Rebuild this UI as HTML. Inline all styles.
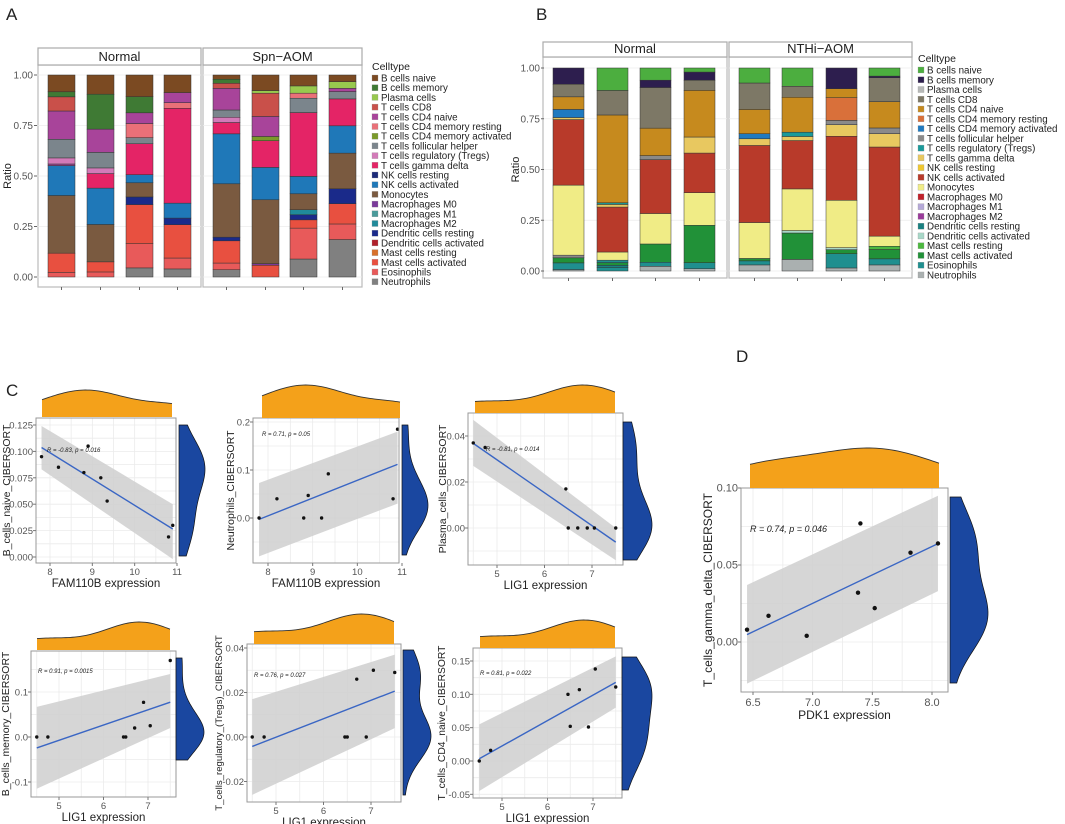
<!DOCTYPE html>
<html><head><meta charset="utf-8">
<style>
html,body{margin:0;padding:0;background:#fff;}
svg{display:block;font-family:"Liberation Sans",Arial,sans-serif;}
</style></head>
<body>
<svg id="fig" width="1065" height="824" viewBox="0 0 1065 824" xmlns="http://www.w3.org/2000/svg">
<text x="6" y="20" font-size="17" fill="#222">A</text>
<text x="536" y="20" font-size="17" fill="#222">B</text>
<text x="6" y="396" font-size="17" fill="#222">C</text>
<text x="736" y="362" font-size="17" fill="#222">D</text>
</svg>
<script>
const NS="http://www.w3.org/2000/svg";
const svg=document.getElementById('fig');
function mk(tag,attrs,parent){const e=document.createElementNS(NS,tag);for(const k in attrs)e.setAttribute(k,attrs[k]);(parent||svg).appendChild(e);return e;}

// ---------- Panel A data ----------
const cellTypesA=["B cells naive","B cells memory","Plasma cells","T cells CD8","T cells CD4 naive","T cells CD4 memory resting","T cells CD4 memory activated","T cells follicular helper","T cells regulatory (Tregs)","T cells gamma delta","NK cells resting","NK cells activated","Monocytes","Macrophages M0","Macrophages M1","Macrophages M2","Dendritic cells resting","Dendritic cells activated","Mast cells resting","Mast cells activated","Eosinophils","Neutrophils"];
const colorsA=["#7b4a22","#3f7a34","#98c94e","#c9504a","#a8449a","#ea7078","#7a9a2a","#7b858c","#d37ab8","#e42466","#1c2a78","#1f78b8","#7a5a40","#7a3a9a","#4a9a9a","#208a9a","#1a2a8a","#b0202a","#d8702a","#e85040","#e85a5a","#808080"];
const groupsA=["Normal","Spn\u2212AOM"];
// stacks bottom->top: [cellTypeIndex, fraction]
const barsA=[
 [[20,.023],[19,.095],[12,.285],[11,.148],[4,.008],[8,.03],[7,.092],[4,.14],[3,.07],[1,.025],[0,.083]],
 [[20,.025],[19,.05],[12,.185],[11,.18],[9,.072],[8,.028],[7,.077],[4,.115],[1,.173],[0,.095]],
 [[21,.045],[20,.12],[19,.193],[16,.038],[12,.07],[11,.04],[9,.153],[7,.03],[5,.07],[4,.053],[1,.08],[0,.107]],
 [[21,.04],[20,.054],[19,.165],[16,.033],[11,.074],[9,.47],[5,.028],[4,.05],[0,.087]],
 [[21,.036],[20,.033],[19,.11],[16,.018],[12,.264],[11,.247],[9,.056],[8,.026],[7,.036],[4,.107],[3,.025],[1,.02],[0,.021]],
 [[19,.058],[13,.008],[12,.316],[11,.16],[9,.132],[6,.021],[4,.099],[3,.115],[2,.013],[0,.077]],
 [[21,.089],[20,.153],[19,.041],[16,.025],[15,.025],[12,.079],[11,.086],[9,.316],[7,.071],[5,.025],[2,.036],[0,.054]],
 [[21,.185],[20,.077],[19,.1],[16,.074],[12,.176],[11,.135],[9,.133],[7,.036],[4,.016],[2,.033],[0,.033]]
];
const yTicksA=[0,0.25,0.5,0.75,1];

// ---------- Panel B data ----------
const colorsB=["#4cae3f","#2d1e4e","#b7b9b8","#7d7866","#c68a1e","#d9703a","#1f7ac0","#8a8a8a","#1a9a9a","#e8c860","#f0c830","#b83a2a","#f0ec86","#c0202a","#b5a9d8","#9a3a9a","#1a8080","#a8d8c8","#4cb83f","#219138","#1f8f8f","#aab0b0"];
const groupsB=["Normal","NTHi\u2212AOM"];
const barsB=[
 [[21,.007],[20,.033],[19,.025],[7,.013],[12,.345],[11,.323],[9,.01],[6,.04],[4,.062],[3,.062],[1,.08]],
 [[20,.016],[16,.012],[19,.013],[20,.012],[12,.04],[11,.22],[9,.013],[8,.008],[4,.43],[3,.12],[0,.11]],
 [[21,.023],[20,.02],[19,.09],[12,.15],[11,.265],[7,.02],[4,.135],[3,.2],[1,.036],[0,.06]],
 [[21,.011],[20,.03],[19,.184],[12,.161],[11,.195],[9,.079],[4,.23],[3,.05],[1,.04],[0,.02]],
 [[21,.03],[20,.02],[19,.012],[12,.177],[11,.38],[9,.033],[6,.025],[4,.12],[3,.13],[0,.074]],
 [[21,.057],[19,.13],[17,.012],[12,.205],[11,.238],[9,.02],[8,.021],[4,.172],[3,.054],[0,.09]],
 [[21,.015],[20,.07],[19,.02],[17,.01],[12,.233],[11,.315],[9,.057],[7,.021],[5,.112],[4,.044],[1,.102]],
 [[21,.03],[20,.03],[19,.046],[18,.016],[12,.05],[11,.44],[9,.066],[7,.028],[4,.13],[3,.118],[1,.008],[0,.04]]
];

function stackPanel(opts){
  const {id,bars,colors,groups,panels,yTop,yBot,barX,barW,stripTop,stripBot,bottom,tickX,ratioX,legX,legY0,legStep}=opts;
  const g=mk('g',{});
  
  
  const ys=v=>yBot+(yTop-yBot)*v;
  panels.forEach((p,pi)=>{
    const bg=mk('rect',{x:p[0],y:stripBot,width:p[1]-p[0],height:bottom-stripBot,fill:'#fff',stroke:'#bbb','stroke-width':1.2},g);
    
    
    yTicksA.forEach(t=>{mk('line',{x1:p[0],x2:p[1],y1:ys(t),y2:ys(t),stroke:'#ececec','stroke-width':0.8},g);});
    const st=mk('rect',{x:p[0],y:stripTop,width:p[1]-p[0],height:stripBot-stripTop,fill:'#fff',stroke:'#aaa','stroke-width':1.2},g);
    
    
    const tx=mk('text',{x:(p[0]+p[1])/2,y:stripBot-4,'font-size':13,'text-anchor':'middle',fill:'#222'},g);
    tx.textContent=groups[pi];
    
    
  });
  bars.forEach((b,bi)=>{
    const tot=b.reduce((s,d)=>s+d[1],0);
    let cum=0;
    b.forEach(d=>{
      const v=d[1]/tot;
      const r=mk('rect',{x:barX[bi],y:ys(cum+v),width:barW,height:ys(cum)-ys(cum+v),fill:colors[d[0]],stroke:'#333','stroke-width':0.5},g);
      
      
      cum+=v;
    });
    mk('line',{x1:barX[bi]+barW/2,x2:barX[bi]+barW/2,y1:bottom,y2:bottom+3,stroke:'#666'},g);
  });
  yTicksA.forEach(t=>{
    const tt=mk('text',{x:tickX,y:ys(t)+3.5,'font-size':10,'text-anchor':'end',fill:'#555'},g);
    tt.textContent=t.toFixed(2);
    
    
    mk('line',{x1:tickX+1,x2:tickX+4,y1:ys(t),y2:ys(t),stroke:'#666'},g);
  });
  const rt=mk('text',{x:ratioX,y:(yTop+yBot)/2,'font-size':11,'text-anchor':'middle',fill:'#222',transform:`rotate(-90 ${ratioX} ${(yTop+yBot)/2})`},g);
  rt.textContent='Ratio';
  
  
  const lg=mk('g',{},g);
  
  
  const lt=mk('text',{x:legX,y:legY0-8,'font-size':10.5,fill:'#222'},lg);
  lt.textContent='Celltype';
  cellTypesA.forEach((c,i)=>{
    const y=legY0+i*legStep;
    const k=mk('rect',{x:legX,y:y-3,width:6,height:6,fill:colors[i],stroke:'#999','stroke-width':0.3},lg);
    
    
    const t=mk('text',{x:legX+9,y:y+3.5,'font-size':9.8,fill:'#222'},lg);
    t.textContent=c;
    
    
  });
}
stackPanel({id:'panel-a',bars:barsA,colors:colorsA,groups:groupsA,panels:[[38,201],[203,362]],yTop:75,yBot:277,
  barX:[48,87,126,164,213,252,290,329],barW:27,stripTop:48,stripBot:65,bottom:287,tickX:33,ratioX:11,legX:372,legY0:78,legStep:9.7});
stackPanel({id:'panel-b',bars:barsB,colors:colorsB,groups:groupsB,panels:[[543,727],[729,912]],yTop:68,yBot:271,
  barX:[553,597,640,684,739,782,826,869],barW:31,stripTop:42,stripBot:57,bottom:278,tickX:540,ratioX:519,legX:918,legY0:70,legStep:9.76});

// ---------- Scatter panels data ----------
const xC1=[7.8,8.2,8.8,8.9,9.2,9.35,10.8,10.9];
const yC1=[0.095,0.085,0.08,0.105,0.075,0.053,0.019,0.03];
const xC2=[7.8,8.2,8.8,8.9,9.2,9.35,10.8,10.9];
const yC2=[0,0.04,0,0.047,0,0.092,0.04,0.185];
const xC3=[4.5,4.75,6.45,6.5,6.7,6.9,7.05,7.5];
const yC3=[0.037,0.035,0.017,0,0,0,0,0];
const xC4=[4.5,4.75,6.45,6.5,6.7,6.9,7.05,7.5];
const yC4=[0,0,0,0,0.02,0.077,0.025,0.17];
const xC5=[4.5,4.75,6.45,6.5,6.7,6.9,7.05,7.5];
const yC5=[0,0,0,0,0.026,0,0.03,0.029];
const xC6=[4.5,4.75,6.45,6.5,6.7,6.9,7.05,7.5];
const yC6=[0,0.016,0.1,0.052,0.107,0.051,0.138,0.111];
const xD=[6.45,6.63,6.95,7.38,7.4,7.52,7.82,8.05];
const yD=[0.008,0.017,0.004,0.032,0.077,0.022,0.058,0.064];
const ciLowC=[0.083,-0.08,0.027,-0.115,-0.026,-0.045,-0.027];
const ciHighC=[0.124,0.073,0.047,0.067,0.017,0.055,0.037];
const ciLowR=[-0.002,0.03,-0.014,0.02,0.004,0.08,0.033];
const ciHighR=[0.05,0.18,0.0,0.14,0.037,0.157,0.095];
const statText=["R = -0.83, p = 0.016","R = 0.71, p = 0.05","R = -0.81, p = 0.014","R = 0.91, p = 0.0015","R = 0.76, p = 0.027","R = 0.81, p = 0.022","R = 0.74, p = 0.046"];
const xTicksSets=[[8,9,10,11],[8,9,10,11],[5,6,7],[5,6,7],[5,6,7],[5,6,7],[6.5,7.0,7.5,8.0]];
const yTicksSets=[[0,0.025,0.05,0.075,0.1,0.125],[0,0.1,0.2],[0,0.02,0.04],[-0.1,0,0.1],[-0.02,0,0.02,0.04],[-0.05,0,0.05,0.1,0.15],[0,0.05,0.1]];

function linreg(xs,ys){const n=xs.length;const mx=xs.reduce((a,b)=>a+b)/n,my=ys.reduce((a,b)=>a+b)/n;let sxy=0,sxx=0;xs.forEach((x,i)=>{sxy+=(x-mx)*(ys[i]-my);sxx+=(x-mx)**2;});const b=sxy/sxx;return {b,a:my-b*mx};}
function kde(vals,grid){const n=vals.length;const m=vals.reduce((a,b)=>a+b)/n;const sd=Math.sqrt(vals.reduce((s,v)=>s+(v-m)**2,0)/(n-1))||1e-3;const h=1.06*sd*Math.pow(n,-0.2);return grid.map(g=>vals.reduce((s,v)=>s+Math.exp(-0.5*((g-v)/h)**2),0));}

function scatter(o){
  const g=mk('g',{});
  
  
  const xs=v=>o.xa[1]+(v-o.xa[0])*(o.xb[1]-o.xa[1])/(o.xb[0]-o.xa[0]);
  const ys=v=>o.ya[1]+(v-o.ya[0])*(o.yb[1]-o.ya[1])/(o.yb[0]-o.ya[0]);
  const [bx0,by0,bx1,by1]=o.box;
  const inv=p=>o.ya[0]+(p-o.ya[1])*(o.yb[0]-o.ya[0])/(o.yb[1]-o.ya[1]);
  const invx=p=>o.xa[0]+(p-o.xa[1])*(o.xb[0]-o.xa[0])/(o.xb[1]-o.xa[1]);
  mk('rect',{x:bx0,y:by0,width:bx1-bx0,height:by1-by0,fill:'#fff'},g);
  const xt=o.xt, yt=o.yt;
  const xstep=xt[1]-xt[0], ystep=yt[1]-yt[0];
  for(let v=xt[0]-xstep;v<=xt[xt.length-1]+xstep+1e-9;v+=xstep/2){const p=xs(v);if(p>bx0&&p<bx1)mk('line',{x1:p,x2:p,y1:by0,y2:by1,stroke:'#ebebeb','stroke-width':0.8},g);}
  for(let v=yt[0]-ystep;v<=yt[yt.length-1]+ystep+1e-9;v+=ystep/2){const p=ys(v);if(p>by0&&p<by1)mk('line',{x1:bx0,x2:bx1,y1:p,y2:p,stroke:'#ebebeb','stroke-width':0.8},g);}
  const xmin=Math.min(...o.x), xmax=Math.max(...o.x);
  const lr=linreg(o.x,o.y);
  const band=mk('polygon',{points:`${xs(xmin)},${ys(o.hiL)} ${xs(xmax)},${ys(o.hiR)} ${xs(xmax)},${ys(o.loR)} ${xs(xmin)},${ys(o.loL)}`,fill:'#cfcfcf','fill-opacity':0.85},g);
  
  
  const ln=mk('line',{x1:xs(xmin),y1:ys(lr.a+lr.b*xmin),x2:xs(xmax),y2:ys(lr.a+lr.b*xmax),stroke:'#3a66c4','stroke-width':1.4},g);
  
  
  o.x.forEach((x,i)=>{
    const c=mk('circle',{cx:xs(x),cy:ys(o.y[i]),r:o.big?2.2:1.7,fill:'#111'},g);
    
    
  });
  mk('rect',{x:bx0,y:by0,width:bx1-bx0,height:by1-by0,fill:'none',stroke:'#999','stroke-width':1},g);
  xt.forEach(v=>{const p=xs(v);mk('line',{x1:p,x2:p,y1:by1,y2:by1+3,stroke:'#777'},g);
    const t=mk('text',{x:p,y:by1+(o.big?14:12),'font-size':o.big?11:9.5,'text-anchor':'middle',fill:'#555'},g);t.textContent=o.big?v.toFixed(1):String(v);
    });
  yt.forEach(v=>{const p=ys(v);if(p<by0-2||p>by1+2)return;mk('line',{x1:bx0-3,x2:bx0,y1:p,y2:p,stroke:'#777'},g);
    const t=mk('text',{x:bx0-3,y:p+3.5,'font-size':o.big?11:9.5,'text-anchor':'end',fill:'#555'},g);t.textContent=o.yfmt(v);
    });
  const xl=mk('text',{x:(bx0+bx1)/2,y:by1+(o.big?27:24),'font-size':o.big?12:11.5,'text-anchor':'middle',fill:'#222'},g);
  xl.textContent=o.xlab;
  const yx=o.ylx, yc=(by0+by1)/2;
  const yl=mk('text',{x:yx,y:yc,'font-size':o.big?12:o.yfs,'text-anchor':'middle',fill:'#222',transform:`rotate(-90 ${yx} ${yc})`},g);
  yl.textContent=o.ylab;
  const st=mk('text',{x:o.st[0],y:o.st[1],'font-size':o.big?9:6,'font-style':'italic',fill:'#222'},g);
  st.textContent=o.stat;
  const [tx0,tx1,ty0,ty1]=o.top;
  const N=60, gx=[];for(let i=0;i<=N;i++)gx.push(invx(tx0+(tx1-tx0)*i/N));
  const dx=kde(o.x,gx), mxd=Math.max(...dx);
  let d=`M${tx0},${ty1}`;dx.forEach((v,i)=>{d+=` L${tx0+(tx1-tx0)*i/N},${ty1-(v/mxd)*(ty1-ty0)*0.95-(ty1-ty0)*0.05}`;});d+=` L${tx1},${ty1} Z`;
  const tp=mk('path',{d,fill:'#f4a11a',stroke:'none'},g);
  let d2='';dx.forEach((v,i)=>{d2+=(i?' L':'M')+(tx0+(tx1-tx0)*i/N)+','+(ty1-(v/mxd)*(ty1-ty0)*0.95-(ty1-ty0)*0.05);});
  mk('path',{d:d2,fill:'none',stroke:'#333','stroke-width':0.9},g);
  const [rx0,rx1,ry0,ry1]=o.right;
  const gy=[];for(let i=0;i<=N;i++)gy.push(inv(ry0+(ry1-ry0)*i/N));
  const dy=kde(o.y,gy), myd=Math.max(...dy);
  let d3=`M${rx0},${ry0}`;dy.forEach((v,i)=>{d3+=` L${rx0+(v/myd)*(rx1-rx0)*0.95+(rx1-rx0)*0.05},${ry0+(ry1-ry0)*i/N}`;});d3+=` L${rx0},${ry1} Z`;
  const rp=mk('path',{d:d3,fill:'#1a47a0',stroke:'#111','stroke-width':0.7},g);
}
const f3=v=>v.toFixed(3), f2=v=>v.toFixed(2), f1=v=>v.toFixed(1);
const cfgs=[
 {id:'scatter-b-cells-naive',x:xC1,y:yC1,box:[36,418,176,563],xa:[8,50],xb:[11,177],ya:[0,557],yb:[0.125,425],xlab:'FAM110B expression',ylab:'B_cells_naive_CIBERSORT',ylx:10,yfs:10.5,st:[47,452],top:[42,172,390,417],right:[179,205,425,556],yfmt:f3},
 {id:'scatter-neutrophils',x:xC2,y:yC2,box:[253,418,399,563],xa:[8,268],xb:[11,402],ya:[0,518],yb:[0.2,422],xlab:'FAM110B expression',ylab:'Neutrophils_CIBERSORT',ylx:234,yfs:10.5,st:[262,436],top:[262,400,385,418],right:[402,428,425,555],yfmt:f1},
 {id:'scatter-plasma-cells',x:xC3,y:yC3,box:[468,413,623,565],xa:[5,497],xb:[7,592],ya:[0,528],yb:[0.04,436],xlab:'LIG1 expression',ylab:'Plasma_cells_CIBERSORT',ylx:446,yfs:10.5,st:[486,451],top:[475,615,385,413],right:[623,652,422,560],yfmt:f2},
 {id:'scatter-b-cells-memory',x:xC4,y:yC4,box:[31,651,176,797],xa:[5,59],xb:[7,148],ya:[0,737],yb:[0.1,692],xlab:'LIG1 expression',ylab:'B_cells_memory_CIBERSORT',ylx:9,yfs:10.5,st:[38,673],top:[37,170,622,650],right:[176,204,658,760],yfmt:f1},
 {id:'scatter-tregs',x:xC5,y:yC5,box:[247,644,401,802],xa:[5,276],xb:[7,371],ya:[0,737],yb:[0.04,648],xlab:'LIG1 expression',ylab:'T_cells_regulatory_(Tregs)_CIBERSORT',ylx:222,yfs:9.6,st:[254,677],top:[254,394,614,644],right:[403,431,650,795],yfmt:f2},
 {id:'scatter-t-cd4-naive',x:xC6,y:yC6,box:[473,648,622,798],xa:[5,502],xb:[7,593],ya:[0,761],yb:[0.15,661],xlab:'LIG1 expression',ylab:'T_cells_CD4_naive_CIBERSORT',ylx:445,yfs:10.3,st:[480,675],top:[480,615,620,648],right:[622,652,657,790],yfmt:f2},
 {id:'scatter-t-gamma-delta',x:xD,y:yD,box:[741,488,948,692],xa:[6.5,753],xb:[8,932],ya:[0,642],yb:[0.05,565],xlab:'PDK1 expression',ylab:'T_cells_gamma_delta_CIBERSORT',ylx:712,yfs:12,st:[750,532],top:[750,939,448,488],right:[950,988,497,683],yfmt:f2,big:true}
];
cfgs.forEach((c,i)=>{c.xt=xTicksSets[i];c.yt=yTicksSets[i];c.loL=ciLowC[i];c.hiL=ciHighC[i];c.loR=ciLowR[i];c.hiR=ciHighR[i];c.stat=statText[i];scatter(c);});
</script>
</body></html>
